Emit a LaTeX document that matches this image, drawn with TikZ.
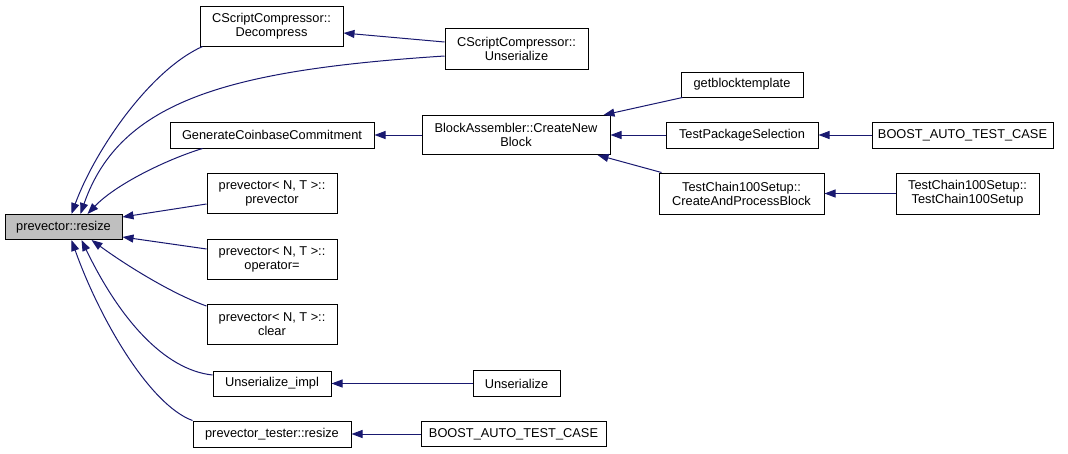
\documentclass[tikz,border=0pt]{standalone}
\usepackage{fontspec}
\setmainfont{Liberation Sans}
\usetikzlibrary{arrows.meta,calc}
\definecolor{edgecol}{RGB}{25,25,112}
\definecolor{mainfill}{RGB}{191,191,191}
\begin{document}
\begin{tikzpicture}[x=1pt,y=-1pt,
  box/.style={draw=black,line width=1pt,fill=white,inner sep=0pt,align=center,
    font=\fontsize{12.8}{14}\selectfont},
  edge/.style={draw=edgecol,line width=1pt,-{Triangle[length=11pt,width=8pt]}}]
\useasboundingbox (0,0) rectangle (1068,453);
% nodes
\node[box,fill=mainfill,minimum width=117pt,minimum height=25pt] (resize) at (63.5,227) {prevector::resize};
\node[box,minimum width=143pt,minimum height=40pt] (dec) at (271.5,26) {CScriptCompressor::\\Decompress};
\node[box,minimum width=143pt,minimum height=41pt] (cunser) at (516.5,48.5) {CScriptCompressor::\\Unserialize};
\node[box,minimum width=204pt,minimum height=26pt] (gcc) at (272,135) {GenerateCoinbaseCommitment};
\node[box,minimum width=130pt,minimum height=40pt] (ctor) at (272,193) {prevector< N, T >::\\prevector};
\node[box,minimum width=130pt,minimum height=40pt] (opeq) at (272,259) {prevector< N, T >::\\operator=};
\node[box,minimum width=130pt,minimum height=40pt] (clear) at (272,324) {prevector< N, T >::\\clear};
\node[box,minimum width=118pt,minimum height=25pt] (uimpl) at (272,383.5) {Unserialize\_impl};
\node[box,minimum width=158pt,minimum height=26pt] (tester) at (272,434) {prevector\_tester::resize};
\node[box,minimum width=188pt,minimum height=39pt] (cnb) at (516,135) {BlockAssembler::CreateNew\\Block};
\node[box,minimum width=122pt,minimum height=25pt] (gbt) at (742,84.5) {getblocktemplate};
\node[box,minimum width=152pt,minimum height=26pt] (tps) at (742,135) {TestPackageSelection};
\node[box,minimum width=181pt,minimum height=26pt] (boosta) at (962.5,135) {BOOST\_AUTO\_TEST\_CASE};
\node[box,minimum width=165pt,minimum height=41pt] (capb) at (741.5,193.5) {TestChain100Setup::\\CreateAndProcessBlock};
\node[box,minimum width=143pt,minimum height=41pt] (tc) at (967.5,193.5) {TestChain100Setup::\\TestChain100Setup};
\node[box,minimum width=87pt,minimum height=26pt] (unser) at (516.5,383.5) {Unserialize};
\node[box,minimum width=185pt,minimum height=25pt] (boostb) at (513.5,434) {BOOST\_AUTO\_TEST\_CASE};
% edges into resize
\draw[edge] ($(dec.south west)+(3,0)$) .. controls (150,70) and (95,150) .. ($(resize.north west)+(67,0)$);
\draw[edge] ($(cunser.west)+(0,7.5)$) .. controls (230,70) and (120,100) .. ($(resize.north west)+(76,0)$);
\draw[edge] ($(gcc.south west)+(33,0)$) .. controls (165,160) and (115,185) .. ($(resize.north west)+(83,0)$);
\draw[edge] ($(ctor.west)+(0,11)$) -- ($(resize.east)+(0,-10)$);
\draw[edge] ($(opeq.west)+(0,-10)$) -- ($(resize.east)+(0,10)$);
\draw[edge] ($(clear.west)+(0,-18)$) .. controls (175,295) and (130,268) .. ($(resize.south west)+(87,0)$);
\draw[edge] ($(uimpl.west)+(0,-8.5)$) .. controls (165,370) and (120,320) .. ($(resize.south west)+(77,0)$);
\draw[edge] (tester.north west) .. controls (150,405) and (100,320) .. ($(resize.south west)+(67,0)$);
% other edges
\draw[edge] ($(cunser.west)+(0,-6.5)$) -- ($(dec.east)+(0,7)$);
\draw[edge] (cnb.west) -- (gcc.east);
\draw[edge] ($(gbt.south west)+(2,0)$) -- ($(cnb.north east)+(-7,0)$);
\draw[edge] (tps.west) -- (cnb.east);
\draw[edge] ($(capb.north west)+(3,0)$) -- ($(cnb.south east)+(-13,0)$);
\draw[edge] (boosta.west) -- (tps.east);
\draw[edge] (tc.west) -- (capb.east);
\draw[edge] (unser.west) -- (uimpl.east);
\draw[edge] (boostb.west) -- (tester.east);
\end{tikzpicture}
\end{document}
